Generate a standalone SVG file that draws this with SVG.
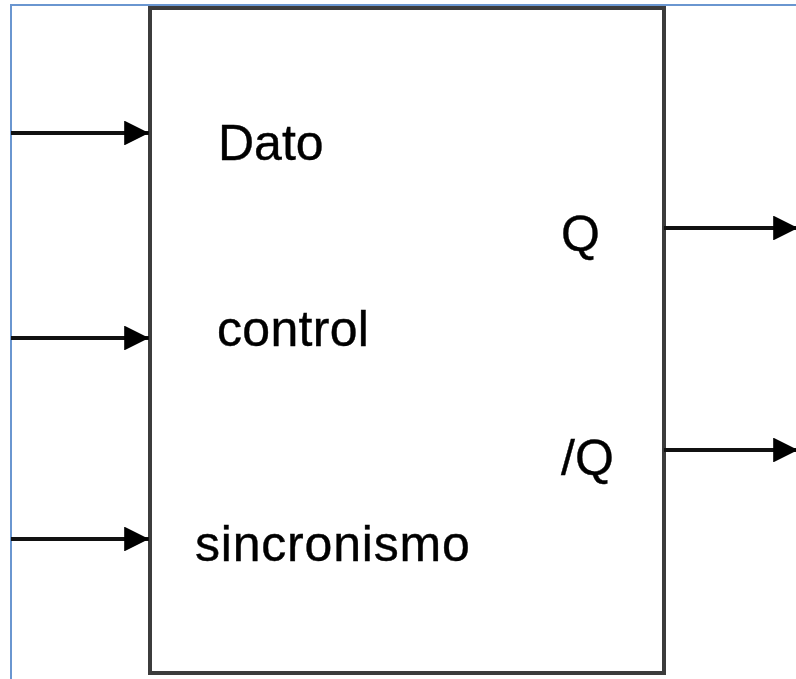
<svg xmlns="http://www.w3.org/2000/svg" width="796" height="679" viewBox="0 0 796 679">
  <style>
    .frame { fill: none; stroke: #6a96d0; stroke-width: 2; }
    .box { fill: #ffffff; stroke: #3c3c3c; stroke-width: 4; }
    .wire { fill: none; stroke: #111111; stroke-width: 4; }
    .lbl { font-family: "Liberation Sans", Arial, sans-serif; font-size: 50px; fill: #000000; stroke: #000000; stroke-width: 0.4; }
  </style>
  <defs>
    <marker id="arr" viewBox="0 0 10 10" refX="10" refY="5" markerWidth="6.2" markerHeight="6.2" orient="auto" markerUnits="strokeWidth">
      <path d="M0,0 L10,5 L0,10 Z" fill="#000000"/>
    </marker>
  </defs>
  <rect width="796" height="679" fill="#ffffff"/>
  <path class="frame" d="M11,679 V5 H796"/>
  <g id="block">
    <rect class="box" x="150" y="8" width="514" height="665"/>
    <text class="lbl" x="218" y="160">Dato</text>
    <text class="lbl" x="217" y="346" letter-spacing="0.3">control</text>
    <text class="lbl" x="195" y="561" letter-spacing="0.8">sincronismo</text>
    <text class="lbl" x="561" y="251">Q</text>
    <text class="lbl" x="561" y="475">/Q</text>
  </g>
  <g id="connectors">
    <line class="wire" x1="11" y1="133" x2="149" y2="133" marker-end="url(#arr)"/>
    <line class="wire" x1="11" y1="338" x2="149" y2="338" marker-end="url(#arr)"/>
    <line class="wire" x1="11" y1="539" x2="149" y2="539" marker-end="url(#arr)"/>
    <line class="wire" x1="664" y1="228" x2="798" y2="228" marker-end="url(#arr)"/>
    <line class="wire" x1="664" y1="450" x2="798" y2="450" marker-end="url(#arr)"/>
  </g>
</svg>
